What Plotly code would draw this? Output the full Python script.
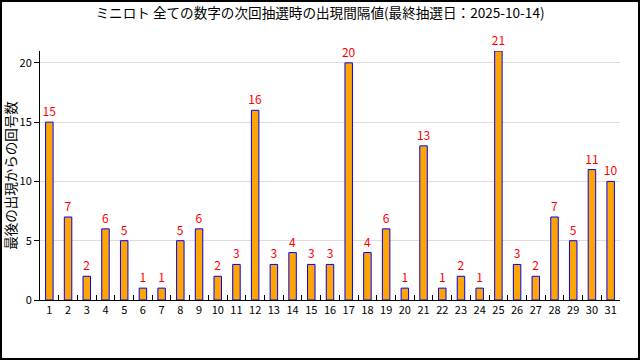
import plotly.graph_objects as go

numbers = [str(i) for i in range(1, 32)]
intervals = [15, 7, 2, 6, 5, 1, 1, 5, 6, 2, 3, 16, 3, 4, 3, 3, 20, 4, 6, 1,
             13, 1, 2, 1, 21, 3, 2, 7, 5, 11, 10]
y_ticks = [0, 5, 10, 15, 20]

title_text = "ミニロト 全ての数字の次回抽選時の出現間隔値(最終抽選日：2025-10-14)"
y_title = "最後の出現からの回号数"

FONT = "Noto Sans CJK JP"
L, R, T, B = 40, 20, 51, 60
W, H = 640, 360
pw, ph = W - L - R, H - T - B

fig = go.Figure(go.Bar(
    x=numbers, y=intervals,
    marker=dict(color="#FFA500", line=dict(color="#0000FF", width=1)),
    text=[str(v) for v in intervals], textposition="outside",
    constraintext="none",
    textfont=dict(color="#FF0000", size=12, family=FONT),
    cliponaxis=False,
))

fig.update_layout(
    width=W, height=H,
    margin=dict(l=L, r=R, t=T, b=B, autoexpand=False),
    paper_bgcolor="white", plot_bgcolor="white",
    bargap=0.6,
    showlegend=False,
    title=dict(text=title_text, x=0.5, xanchor="center", y=1 - 13 / H, yanchor="middle",
               font=dict(family=FONT, size=13.6, color="black"), automargin=False),
    font=dict(family=FONT, color="black"),
    xaxis=dict(type="category", showline=True, linecolor="black", linewidth=1,
               ticks="inside", tickson="boundaries", ticklen=5, tickcolor="black",
               tickangle=0, automargin=False,
               tickfont=dict(size=11, family=FONT), showgrid=False),
    yaxis=dict(range=[0, 21], tickvals=y_ticks, showline=True, linecolor="black", linewidth=1,
               ticks="outside", ticklen=5, tickcolor="black", automargin=False,
               showgrid=True, gridcolor="#dddddd", zeroline=False,
               tickfont=dict(size=11, family=FONT),
               title=dict(text=y_title, font=dict(size=13.5, family=FONT))),
    shapes=[dict(type="rect", xref="paper", yref="paper",
                 x0=-(L - 1) / pw, x1=1 + (R - 1) / pw,
                 y0=-(B - 1) / ph, y1=1 + (T - 1) / ph,
                 line=dict(color="black", width=2), layer="above")],
)

fig.write_html("out.html", config={"displayModeBar": False},
               post_script="document.body.style.margin='0';document.body.style.overflow='hidden';")
